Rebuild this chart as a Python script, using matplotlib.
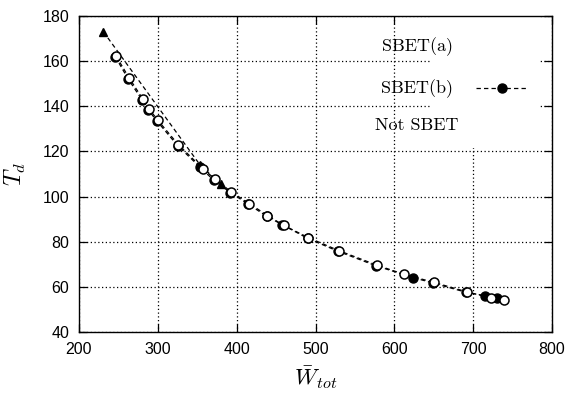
import matplotlib
matplotlib.use("Agg")
import matplotlib.pyplot as plt
from matplotlib.patches import Rectangle
from matplotlib.lines import Line2D

# SBET(a): triangles
sbet_a_w = [231, 354, 380]
sbet_a_t = [173.0, 113.8, 105.6]

# SBET(b): filled circles
sbet_b_w = [246, 262, 280, 288, 299, 325, 353, 371, 392, 415, 438, 458,
            490, 529, 577, 624, 649, 691, 715, 730]
sbet_b_t = [162.0, 152.3, 142.8, 138.3, 133.4, 122.6, 113.2, 107.2, 101.8, 96.6, 91.3, 87.5,
            81.5, 75.7, 69.3, 64.1, 61.7, 57.6, 56.1, 54.9]

# Not SBET: open circles
not_w = [247, 263.5, 281, 289, 300, 326, 357, 373, 393, 416, 439, 460,
         491, 530, 578, 612, 650, 692, 722, 739]
not_t = [162.3, 152.6, 143.2, 138.8, 133.8, 123.0, 112.4, 107.6, 102.1, 96.9, 91.6, 87.2,
         81.8, 76.0, 69.6, 65.6, 62.0, 57.8, 55.1, 54.0]

legend_labels = ["SBET(a)", "SBET(b)", "Not SBET"]

plt.rcParams['mathtext.fontset'] = 'cm'
plt.rcParams['font.family'] = ['Liberation Sans', 'DejaVu Sans']

fig = plt.figure(figsize=(5.70, 3.94), dpi=100)
ax = fig.add_axes([79 / 570, 1 - 332 / 394, 473 / 570, 316 / 394])

dash = (0, (3.5, 2.5))
ax.plot(sbet_a_w, sbet_a_t, color='black', lw=0.9, ls=dash, marker='^', ms=6,
        mfc='black', mec='black', zorder=3)
ax.plot(sbet_b_w, sbet_b_t, color='black', lw=0.9, ls=dash, marker='o', ms=6.5,
        mfc='black', mec='black', zorder=3)
ax.plot(not_w, not_t, color='black', lw=0.9, ls=dash, marker='o', ms=6.5,
        mfc='white', mec='black', mew=1.1, zorder=4)

ax.set_xlim(200, 800)
ax.set_ylim(40, 180)
ax.set_xticks(range(200, 801, 100))
ax.set_yticks(range(40, 181, 20))
ax.tick_params(direction='in', length=6, width=0.9, top=True, right=True,
               labelsize=11.5, pad=7)
ax.grid(True, color='black', linestyle=(0, (1, 2)), linewidth=0.9)
for s in ax.spines.values():
    s.set_linewidth(1.0)

# blank area behind key samples
ax.add_patch(Rectangle((0.746, 0.583), 0.229, 0.417, transform=ax.transAxes,
                       facecolor='white', edgecolor='none', zorder=1.8))

# key
ys = [0.903, 0.771, 0.655]
for lab, yy in zip(legend_labels, ys):
    ax.text(0.7146, yy, lab, transform=ax.transAxes, ha='center', va='center',
            fontsize=13, fontfamily='cmr10', zorder=5)
ax.add_line(Line2D([0.839, 0.947], [0.773, 0.773], transform=ax.transAxes,
                   color='black', lw=0.9, ls=dash, zorder=5))
ax.add_line(Line2D([0.894], [0.773], transform=ax.transAxes, marker='o', ms=6.5,
                   color='black', zorder=5))

ax.set_xlabel(r'$\boldsymbol{\bar{W}_{tot}}$', fontsize=16.5, ha='center', va='center')
ax.set_ylabel(r'$\boldsymbol{T_d}$', fontsize=17, ha='center', va='center')
ax.xaxis.set_label_coords(0.5, -0.145)
ax.yaxis.set_label_coords(-0.135, 0.5)

fig.savefig('out.png', dpi=100)
